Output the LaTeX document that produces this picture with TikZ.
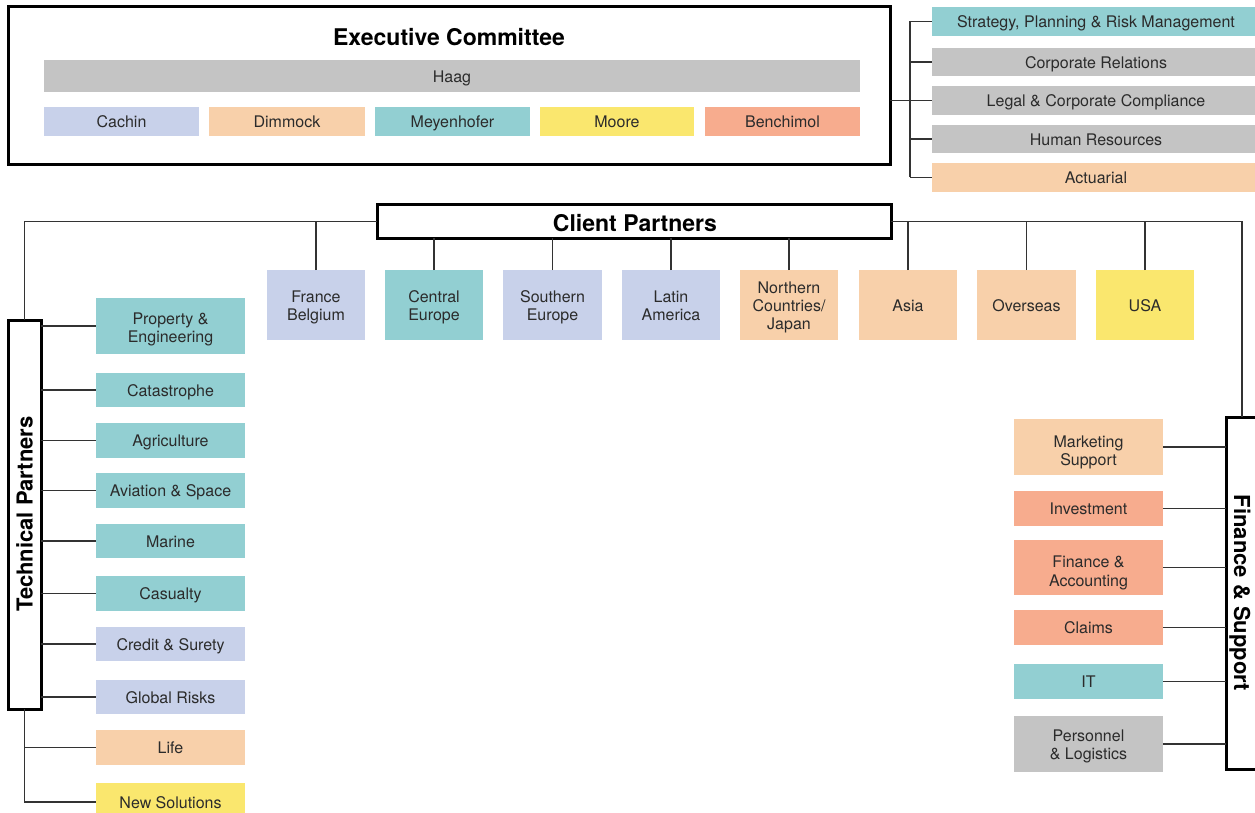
\documentclass[tikz,border=0pt]{standalone}
\usepackage{fontspec}
\setmainfont{TeX Gyre Heros}
\definecolor{lav}{HTML}{C8D1EA}
\definecolor{peach}{HTML}{F8D0AA}
\definecolor{teal}{HTML}{92CFD2}
\definecolor{yell}{HTML}{FAE76E}
\definecolor{salm}{HTML}{F7AC8E}
\definecolor{grey}{HTML}{C4C4C4}
\definecolor{ink}{HTML}{2B2B2B}
\definecolor{wire}{HTML}{333333}
% struts giving label lines a common height and depth
\newcommand\lnstrut{\rule[-3.6pt]{0pt}{20.1pt}}
\newcommand\firstln[1][20.1pt]{\rule[-3.6pt]{0pt}{#1}}
\begin{document}
\begin{tikzpicture}[x=1pt,y=-1pt,
  unit/.style={anchor=north west,inner sep=0pt,outer sep=0pt,text=ink,align=center,
    font=\fontsize{16}{18.3}\selectfont,
    execute at begin node=\lnstrut,execute at end node=\lnstrut},
  group/.style={draw=black,line width=3pt,fill=white,anchor=north west,inner sep=0pt,outer sep=0pt},
  heading/.style={font=\fontsize{23}{26}\selectfont\bfseries,text=black,inner sep=0pt},
  sideheading/.style={font=\fontsize{22}{26}\selectfont\bfseries,text=black,inner sep=0pt,
    text height=16pt,text depth=0pt},
  wire/.style={draw=wire,line width=1.2pt}]
\useasboundingbox (0,0) rectangle (1255,813);

% Executive committee
\node[group,minimum width=882pt,minimum height=158pt] (exec) at (8,7) {};
\node[heading] (exect) at (449,37) {Executive Committee};
\node[unit,fill=grey,minimum width=816pt,minimum height=32pt] (haag) at (44,60) {Haag};
\node[unit,fill=lav,minimum width=155pt,minimum height=29pt] (cachin) at (44,107) {Cachin};
\node[unit,fill=peach,minimum width=156pt,minimum height=29pt] (dimmock) at (209,107) {Dimmock};
\node[unit,fill=teal,minimum width=155pt,minimum height=29pt] (meyen) at (375,107) {Meyenhofer};
\node[unit,fill=yell,minimum width=154pt,minimum height=29pt] (moore) at (540,107) {Moore};
\node[unit,fill=salm,minimum width=155pt,minimum height=29pt] (benchi) at (705,107) {Benchimol};

% Staff functions
\node[unit,fill=teal,minimum width=328pt,minimum height=29pt] (strat) at (932,7) {Strategy, Planning \& Risk Management};
\node[unit,fill=grey,minimum width=328pt,minimum height=28pt] (corp) at (932,48) {Corporate Relations};
\node[unit,fill=grey,minimum width=328pt,minimum height=29pt] (legal) at (932,86) {Legal \& Corporate Compliance};
\node[unit,fill=grey,minimum width=328pt,minimum height=28pt] (hr) at (932,125) {Human Resources};
\node[unit,fill=peach,minimum width=328pt,minimum height=29pt] (actu) at (932,163) {Actuarial};
\coordinate (sbus) at (910,0);
\draw[wire] (exec.east |- legal.west) -- (legal.west);
\draw[wire] (strat.west -| sbus) -- (actu.west -| sbus);
\foreach \n in {strat,corp,hr,actu}
  \draw[wire] (\n.west -| sbus) -- (\n.west);

% Client partners
\node[group,minimum width=514pt,minimum height=33pt] (cp) at (377,205) {};
\node[heading] (cpt) at (635,223) {Client Partners};
\node[unit,fill=lav,minimum width=98pt,minimum height=70pt] (fb) at (267,270) {\firstln France\\Belgium};
\node[unit,fill=teal,minimum width=98pt,minimum height=70pt] (ce) at (385,270) {\firstln Central\\Europe};
\node[unit,fill=lav,minimum width=99pt,minimum height=70pt] (se) at (503,270) {\firstln Southern\\Europe};
\node[unit,fill=lav,minimum width=98pt,minimum height=70pt] (la) at (622,270) {\firstln Latin\\America};
\node[unit,fill=peach,minimum width=98pt,minimum height=70pt] (nc) at (740,270) {\firstln Northern\\Countries/\\Japan};
\node[unit,fill=peach,minimum width=98pt,minimum height=70pt] (asia) at (859,270) {Asia};
\node[unit,fill=peach,minimum width=99pt,minimum height=70pt] (ovs) at (977,270) {Overseas};
\node[unit,fill=yell,minimum width=98pt,minimum height=70pt] (usa) at (1096,270) {USA};
\foreach \n in {ce,se,la,nc}
  \draw[wire] (\n.north) -- (\n.north |- cp.south);
\foreach \n in {fb,asia,ovs,usa}
  \draw[wire] (\n.north) -- (\n.north |- cp.east);

% Technical partners
\node[group,minimum width=33pt,minimum height=389pt] (tp) at (8,320) {};
\node[sideheading,rotate=90] (tpt) at (24.5,514) {Technical Partners};
\draw[wire] (tp.north) |- (cp.west);
\node[unit,fill=teal,minimum width=149pt,minimum height=56pt] (pe) at (96,298) {\firstln[22pt]Property \&\\Engineering};
\node[unit,fill=teal,minimum width=149pt,minimum height=34pt] (cat) at (96,373) {Catastrophe};
\node[unit,fill=teal,minimum width=149pt,minimum height=35pt] (agri) at (96,423) {Agriculture};
\node[unit,fill=teal,minimum width=149pt,minimum height=35pt] (avi) at (96,473) {Aviation \& Space};
\node[unit,fill=teal,minimum width=149pt,minimum height=34pt] (mar) at (96,524) {Marine};
\node[unit,fill=teal,minimum width=149pt,minimum height=35pt] (cas) at (96,576) {Casualty};
\node[unit,fill=lav,minimum width=149pt,minimum height=34pt] (cred) at (96,627) {Credit \& Surety};
\node[unit,fill=lav,minimum width=149pt,minimum height=34pt] (glob) at (96,680) {Global Risks};
\node[unit,fill=peach,minimum width=149pt,minimum height=35pt] (life) at (96,730) {Life};
\node[unit,fill=yell,minimum width=149pt,minimum height=38pt] (news) at (96,783) {New Solutions};
\foreach \n in {pe,cat,agri,avi,mar,cas,cred,glob}
  \draw[wire] (\n.west -| tp.east) -- (\n.west);
\draw[wire] (tp.south) |- (news.west);
\draw[wire] (life.west -| tp.south) -- (life.west);

% Finance & support
\node[group,minimum width=32pt,minimum height=352pt] (fs) at (1226,417) {};
\node[sideheading,rotate=-90] (fst) at (1242,593) {Finance \& Support};
\draw[wire] (cp.east) -| (fs.north);
\node[unit,fill=peach,minimum width=149pt,minimum height=56pt] (mkt) at (1014,419) {\firstln[26pt]Marketing\\Support};
\node[unit,fill=salm,minimum width=149pt,minimum height=35pt] (inv) at (1014,491) {Investment};
\node[unit,fill=salm,minimum width=149pt,minimum height=55pt] (fin) at (1014,540) {\firstln[26pt]Finance \&\\Accounting};
\node[unit,fill=salm,minimum width=149pt,minimum height=35pt] (clm) at (1014,610) {Claims};
\node[unit,fill=teal,minimum width=149pt,minimum height=35pt] (it) at (1014,664) {IT};
\node[unit,fill=grey,minimum width=149pt,minimum height=56pt] (pers) at (1014,716) {\firstln Personnel\\\& Logistics};
\foreach \n in {mkt,inv,fin,clm,it,pers}
  \draw[wire] (\n.east) -- (\n.east -| fs.west);
\end{tikzpicture}
\end{document}
